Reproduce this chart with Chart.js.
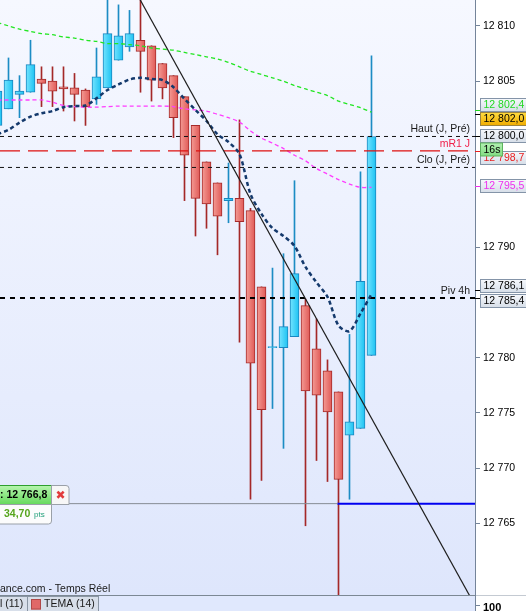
<!DOCTYPE html>
<html>
<head>
<meta charset="utf-8">
<title>CAC 40 - 5 min</title>
<script src="https://cdn.jsdelivr.net/npm/chart.js@4.4.1/dist/chart.umd.min.js"></script>
<style>
  html, body { margin: 0; padding: 0; background: #fff; }
  #chart { display: block; }
</style>
</head>
<body>
<canvas id="chart" width="526" height="611"></canvas>
<script>
// candles, oldest first (index 0 is cut by the left edge)
const opens  = [12801.0, 12802.5, 12803.8, 12804.0, 12805.2, 12805.0, 12804.5, 12804.4, 12804.2, 12803.4,
                12804.4, 12806.9, 12808.1, 12808.7, 12808.2, 12806.6, 12805.5, 12803.6, 12801.0, 12797.7,
                12795.8, 12794.2, 12794.4, 12793.3, 12786.4, 12780.9, 12780.9, 12781.9, 12784.7, 12780.8,
                12778.8, 12776.9, 12773.0, 12773.6, 12780.2];
const highs  = [12805.5, 12807.1, 12805.5, 12808.7, 12806.3, 12806.3, 12806.3, 12805.7, 12804.3, 12808.0,
                12813.5, 12811.9, 12811.4, 12813.5, 12808.2, 12806.6, 12805.5, 12803.6, 12801.0, 12797.7,
                12795.8, 12797.6, 12801.5, 12793.5, 12786.4, 12788.1, 12789.4, 12796.0, 12785.3, 12783.5,
                12779.8, 12776.9, 12782.1, 12796.8, 12807.3];
const lows   = [12800.6, 12802.5, 12801.7, 12804.0, 12802.7, 12802.7, 12802.3, 12801.4, 12801.0, 12802.9,
                12804.4, 12806.9, 12807.7, 12804.0, 12803.2, 12803.4, 12799.9, 12794.2, 12791.0, 12791.7,
                12789.3, 12792.2, 12781.4, 12767.2, 12768.9, 12775.4, 12771.8, 12781.9, 12764.8, 12770.7,
                12768.8, 12757.0, 12767.2, 12773.6, 12780.2];
const closes = [12804.1, 12805.1, 12804.1, 12806.5, 12804.8, 12804.1, 12804.3, 12803.8, 12802.7, 12805.4,
                12809.3, 12809.1, 12809.3, 12807.7, 12805.1, 12804.4, 12801.7, 12798.3, 12794.4, 12793.9,
                12792.8, 12794.4, 12792.3, 12779.5, 12775.3, 12781.0, 12782.8, 12787.6, 12777.0, 12776.6,
                12775.1, 12769.0, 12774.2, 12786.9, 12800.0];

// indicators
const maGreen = [12810.3, 12810.0, 12809.7, 12809.5, 12809.3, 12809.2, 12809.0, 12808.9, 12808.7, 12808.6,
                 12808.4, 12808.4, 12808.3, 12808.2, 12808.0, 12807.9, 12807.8, 12807.6, 12807.4, 12807.2,
                 12807.0, 12806.7, 12806.3, 12805.9, 12805.6, 12805.3, 12805.0, 12804.6, 12804.3, 12804.0,
                 12803.7, 12803.2, 12802.9, 12802.6, 12802.2];
const maPink  = [12803.3, 12803.3, 12803.3, 12803.3, 12803.3, 12803.1, 12802.8, 12802.7, 12802.65, 12802.65,
                 12802.7, 12802.75, 12802.75, 12802.75, 12802.75, 12802.75, 12802.7, 12802.5, 12802.4, 12802.3,
                 12802.0, 12801.7, 12801.3, 12800.5, 12799.85, 12799.4, 12798.9, 12798.3, 12797.8, 12797.1,
                 12796.6, 12796.1, 12795.7, 12795.4, 12795.4];
const tema    = [12800.2, 12800.6, 12801.25, 12801.8, 12802.1, 12802.3, 12802.65, 12802.75, 12802.8, 12803.45,
                 12804.2, 12804.7, 12805.15, 12805.3, 12805.2, 12805.1, 12804.45, 12803.4, 12802.4, 12801.4,
                 12800.2, 12799.5, 12798.4, 12794.8, 12793.0, 12791.7, 12791.0, 12790.1, 12788.2, 12786.8,
                 12785.5, 12782.9, 12782.4, 12784.0, 12785.75];

// hand drawn trend line (candle index, price)
const trendX = [12, 43.41];
const trendY = [12814.1, 12757.6];

// horizontal levels
const levelHaut = 12800.0;
const levelR1 = 12798.7;
const levelClo = 12797.2;
const levelPiv = 12785.4;
const levelLow = 12766.8;
const lowIndex = 31;

const yTicks = [12765, 12770, 12775, 12780, 12790, 12805, 12810];
const xMin = 0.227, xMax = 43.41;
const yMin = 12758.54, yMax = 12812.34;

// price tags on the right axis
const tagValues = [12802.4, 12802.0, 12800.0, 12798.7, 12795.5, 12786.1, 12785.4];
const tagColors = ['#22D822', '#000', '#000', '#E82020', '#EE30EE', '#000', '#000'];
const tagShift  = [-5, 5, 0, 7, 0, -4, 3];

const FONT = '"Liberation Sans", Arial, sans-serif';
Chart.defaults.font.family = FONT;

const idx = opens.map((_, i) => i);
const up = (i) => closes[i] >= opens[i];

function fmt(v, dec) {
  const s = dec ? v.toFixed(dec).replace('.', ',') : String(v);
  return s.replace(/^(\d+)(\d{3})/, '$1 $2');
}

function bodyFill(ctx) {
  const i = ctx.dataIndex;
  if (i === undefined) return '#40D4F8';
  const xs = ctx.chart.scales.x;
  const c = up(i) ? ['#74E4FF', '#1CC2F2'] : ['#F49C96', '#E05956'];
  if (!xs || !isFinite(xs.getPixelForValue(i))) return c[1];
  const cx = xs.getPixelForValue(i);
  const g = ctx.chart.ctx.createLinearGradient(cx - 4.5, 0, cx + 4.5, 0);
  g.addColorStop(0, c[0]);
  g.addColorStop(1, c[1]);
  return g;
}

function hline(value, from, to, color, width, dash, order) {
  return {
    type: 'line', order,
    data: [{ x: from, y: value }, { x: to, y: value }],
    borderColor: color, borderWidth: width, borderDash: dash,
    pointRadius: 0, tension: 0,
  };
}

function lineSet(values, color, width, dash, order) {
  return {
    type: 'line', order,
    data: values.map((v, i) => ({ x: i, y: v })),
    borderColor: color, borderWidth: width, borderDash: dash,
    pointRadius: 0, tension: 0.3,
  };
}

const decor = {
  id: 'decor',
  beforeDraw(chart) {
    const { ctx, chartArea: a } = chart;
    ctx.save();
    ctx.fillStyle = '#fff';
    ctx.fillRect(0, 0, chart.width, chart.height);
    const g = ctx.createLinearGradient(0, a.top, 0, a.bottom);
    g.addColorStop(0, '#F6F8FF');
    g.addColorStop(1, '#DEE6FC');
    ctx.fillStyle = g;
    ctx.fillRect(a.left, a.top, a.right - a.left, a.bottom - a.top);
    ctx.fillStyle = '#E0E8FD';
    ctx.fillRect(a.left, a.bottom, a.right - a.left, chart.height - a.bottom);
    ctx.restore();
  },
  afterDatasetsDraw(chart) {
    const { ctx } = chart;
    const ys = chart.scales.y;
    const right = 470;
    ctx.save();
    ctx.font = '10.5px ' + FONT;
    ctx.textAlign = 'right';
    ctx.textBaseline = 'middle';
    [[levelHaut, 'Haut (J, Pré)', '#1A1A1A'], [levelR1, 'mR1 J', '#F0204A'],
     [levelClo, 'Clo (J, Pré)', '#1A1A1A'], [levelPiv, 'Piv 4h', '#1A1A1A']].forEach(([v, t, c]) => {
      ctx.fillStyle = c;
      ctx.fillText(t, right, ys.getPixelForValue(v) - 7);
    });
    ctx.restore();
  },
  afterDraw(chart) {
    const { ctx, chartArea: a } = chart;
    const ys = chart.scales.y;
    ctx.save();

    // bottom border + lower panel
    ctx.strokeStyle = '#7C8894';
    ctx.lineWidth = 1;
    ctx.beginPath(); ctx.moveTo(0, a.bottom + 0.5); ctx.lineTo(a.right, a.bottom + 0.5); ctx.stroke();
    ctx.strokeStyle = '#C4CAD2';
    ctx.beginPath(); ctx.moveTo(a.right, a.bottom + 0.5); ctx.lineTo(chart.width, a.bottom + 0.5); ctx.stroke();
    ctx.strokeStyle = '#74849A';
    ctx.beginPath(); ctx.moveTo(a.right + 0.5, a.bottom); ctx.lineTo(a.right + 0.5, chart.height); ctx.stroke();
    ctx.beginPath(); ctx.moveTo(a.right, a.bottom + 10.5); ctx.lineTo(a.right + 5, a.bottom + 10.5); ctx.stroke();
    ctx.fillStyle = '#000';
    ctx.font = 'bold 11px ' + FONT;
    ctx.textAlign = 'left';
    ctx.textBaseline = 'middle';
    ctx.fillText('100', a.right + 8, a.bottom + 13);

    // legend chips of the lower panel
    ctx.font = '10.5px ' + FONT;
    ctx.fillStyle = '#D8DFEA';
    ctx.strokeStyle = '#8A96A4';
    ctx.fillRect(-1, a.bottom + 1.5, 28.5, 16);
    ctx.strokeRect(-1, a.bottom + 1.5, 28.5, 16);
    ctx.fillRect(27.5, a.bottom + 1.5, 71, 16);
    ctx.strokeRect(27.5, a.bottom + 1.5, 71, 16);
    ctx.fillStyle = '#E06868';
    ctx.fillRect(31, a.bottom + 4.5, 10, 10);
    ctx.strokeStyle = '#B04848';
    ctx.strokeRect(31.5, a.bottom + 4.5, 9, 9.5);
    ctx.fillStyle = '#1A1A1A';
    ctx.fillText('l (11)', 0, a.bottom + 9.5);
    ctx.fillText('TEMA (14)', 44, a.bottom + 9.5);
    ctx.fillText('ance.com - Temps Réel', 0, a.bottom - 6);

    // price tags
    const bx = a.right + 5.5;
    tagValues.forEach((v, k) => {
      const py = ys.getPixelForValue(v);
      ctx.strokeStyle = tagColors[k];
      ctx.beginPath(); ctx.moveTo(a.right, Math.round(py) + 0.5); ctx.lineTo(bx, Math.round(py) + 0.5); ctx.stroke();
    });
    tagValues.forEach((v, k) => {
      const cy = Math.round(ys.getPixelForValue(v) + tagShift[k]);
      const top = cy - 6.5;
      const g = ctx.createLinearGradient(0, top, 0, top + 13);
      if (k === 1) { g.addColorStop(0, '#FFDC40'); g.addColorStop(1, '#F0AC00'); }
      else { g.addColorStop(0, '#F6F8FC'); g.addColorStop(1, '#D6DEE8'); }
      ctx.fillStyle = g;
      ctx.fillRect(bx, top, 50, 13);
      ctx.strokeStyle = k === 1 ? '#9C8440' : '#8494A8';
      ctx.strokeRect(bx, top, 50, 13);
      ctx.fillStyle = tagColors[k];
      ctx.fillText(fmt(v, 1), bx + 3, cy + 0.5);
    });
    // countdown chip
    const cy = Math.round(ys.getPixelForValue(levelR1)) - 1.5;
    const g2 = ctx.createLinearGradient(0, cy - 6.5, 0, cy + 6.5);
    g2.addColorStop(0, '#B2F0B2'); g2.addColorStop(1, '#82DC82');
    ctx.fillStyle = g2;
    ctx.fillRect(bx, cy - 6.5, 22, 13);
    ctx.strokeStyle = '#5DB35D';
    ctx.strokeRect(bx, cy - 6.5, 22, 13);
    ctx.fillStyle = '#000';
    ctx.fillText('16s', bx + 3, cy + 0.5);

    // order widget at the session low
    const ly = Math.round(ys.getPixelForValue(levelLow)) + 0.5;
    const gg = ctx.createLinearGradient(0, ly - 19, 0, ly);
    gg.addColorStop(0, '#B6F5AE'); gg.addColorStop(1, '#66D95C');
    ctx.fillStyle = gg;
    ctx.fillRect(-6, ly - 19, 57.5, 19);
    ctx.strokeStyle = '#2E9E2E';
    ctx.strokeRect(-6, ly - 19, 57.5, 19);
    ctx.fillStyle = '#F7F7F7';
    ctx.strokeStyle = '#9AA0A8';
    ctx.beginPath(); ctx.roundRect(51.5, ly - 19, 17.5, 19, [0, 3, 0, 0]); ctx.fill(); ctx.stroke();
    ctx.fillStyle = '#FCFCFC';
    ctx.beginPath(); ctx.roundRect(-6, ly, 57.5, 19.5, [0, 0, 3, 0]); ctx.fill(); ctx.stroke();
    ctx.fillStyle = '#000';
    ctx.font = 'bold 10.5px ' + FONT;
    ctx.fillText(': ' + fmt(levelLow, 1), 0, ly - 9);
    ctx.fillStyle = '#E23B3B';
    ctx.textAlign = 'center';
    ctx.font = 'bold 12px "DejaVu Sans"';
    ctx.fillText('✖', 60.5, ly - 9);
    ctx.textAlign = 'left';
    ctx.font = 'bold 10.5px ' + FONT;
    ctx.fillStyle = '#55A51C';
    ctx.fillText('34,70', 4, ly + 10);
    ctx.font = '8px ' + FONT;
    ctx.fillStyle = '#23A07A';
    ctx.fillText('pts', 34, ly + 10.5);
    ctx.restore();
  },
};

new Chart(document.getElementById('chart'), {
  type: 'bar',
  data: {
    datasets: [
      // wicks
      {
        order: 9, grouped: false, barThickness: 1, borderWidth: 0,
        data: idx.map((i) => ({ x: i, y: [lows[i], highs[i]] })),
        backgroundColor: idx.map((i) => (up(i) ? '#1C8CC4' : '#A42828')),
      },
      // bodies
      {
        order: 8, grouped: false, barThickness: 9, borderWidth: 1, borderSkipped: false,
        data: idx.map((i) => ({ x: i, y: [opens[i], closes[i]] })),
        backgroundColor: bodyFill,
        borderColor: idx.map((i) => (up(i) ? '#1A86C0' : '#A52A2A')),
      },
      hline(levelLow, xMin, lowIndex - 0.1, '#858B93', 1, [], 7),
      hline(levelLow, lowIndex - 0.1, xMax, '#0000F0', 2, [], 7),
      lineSet(maPink, '#FF3CFF', 1.3, [4, 3], 6),
      lineSet(maGreen, '#22E622', 1.3, [4, 3], 6),
      hline(levelHaut, xMin, xMax, '#111', 1, [4, 4], 5),
      hline(levelR1, xMin, xMax, '#DD1111', 1.2, [20, 8], 5),
      hline(levelClo, xMin, xMax, '#111', 1, [4, 4], 5),
      hline(levelPiv, xMin, xMax, '#000', 2, [5, 5], 5),
      lineSet(tema, '#14396C', 2.5, [4, 3], 4),
      {
        type: 'line', order: 3,
        data: trendX.map((x, k) => ({ x, y: trendY[k] })),
        borderColor: '#1E1E1E', borderWidth: 1.2, pointRadius: 0,
      },
    ],
  },
  options: {
    responsive: false,
    animation: false,
    devicePixelRatio: 1,
    layout: { padding: { left: 0, right: 0, top: 0, bottom: 16 } },
    plugins: { legend: { display: false }, tooltip: { enabled: false } },
    events: [],
    scales: {
      x: { type: 'linear', display: false, offset: false, min: xMin, max: xMax },
      y: {
        type: 'linear',
        position: 'right',
        min: yMin,
        max: yMax,
        afterBuildTicks: (axis) => { axis.ticks = yTicks.map((v) => ({ value: v })); },
        afterFit: (axis) => { axis.width = 51; axis.paddingTop = 0; axis.paddingBottom = 0; },
        grid: { drawOnChartArea: false, tickLength: 5, color: '#74849A' },
        border: { color: '#74849A' },
        ticks: {
          padding: 3,
          color: '#000',
          font: { size: 10.5 },
          callback: (v) => fmt(v),
        },
      },
    },
  },
  plugins: [decor],
});
</script>
</body>
</html>
